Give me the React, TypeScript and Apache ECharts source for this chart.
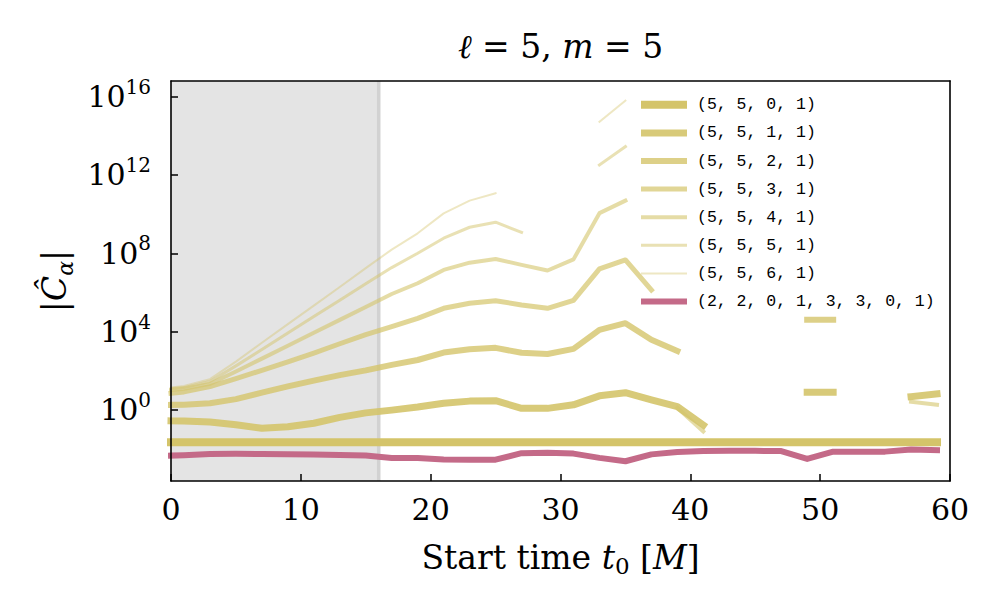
import React, { useEffect, useRef } from "react";
import * as echarts from "echarts";

// Start times t0 [M]
const startTimes = [0, 1, 3, 5, 7, 9, 11, 13, 15, 17, 19, 21, 23, 25, 27, 29, 31, 33, 35, 37, 39, 41, 43, 45, 47, 49, 51, 53, 55, 57, 59];

// log10 |C_alpha| (null = gap)
const logC_5501 = [-1.65, -1.65, -1.65, -1.65, -1.65, -1.65, -1.65, -1.65, -1.65, -1.65, -1.65, -1.65, -1.65, -1.65, -1.65, -1.65, -1.65, -1.65, -1.65, -1.65, -1.65, -1.65, -1.65, -1.65, -1.65, -1.65, -1.65, -1.65, -1.65, -1.65, -1.65];
const logC_5511 = [-0.56, -0.57, -0.62, -0.76, -0.94, -0.86, -0.68, -0.38, -0.15, -0.01, 0.15, 0.34, 0.45, 0.47, 0.08, 0.08, 0.26, 0.72, 0.88, 0.51, 0.17, -0.77, null, null, null, 0.9, 0.9, null, null, 0.68, 0.82];
const logC_5521 = [0.26, 0.27, 0.34, 0.55, 0.88, 1.2, 1.5, 1.78, 2.02, 2.3, 2.55, 2.93, 3.1, 3.17, 2.92, 2.86, 3.12, 4.09, 4.43, 3.58, 3.01, null, null, null, null, 4.6, 4.6, null, null, null, null];
const logC_5531 = [0.85, 0.92, 1.19, 1.6, 2.02, 2.45, 2.9, 3.38, 3.85, 4.25, 4.68, 5.19, 5.45, 5.58, 5.36, 5.19, 5.6, 7.2, 7.66, 6.13, null, null, null, null, null, null, null, null, null, null, null];
const logC_5541 = [1.02, 1.08, 1.33, 1.96, 2.62, 3.28, 3.94, 4.6, 5.26, 5.92, 6.47, 7.15, 7.52, 7.71, 7.41, 7.12, 7.69, 10.05, 10.69, null, 0.1, -1.1, null, null, null, null, null, null, null, 0.42, 0.26];
const logC_5551 = [1.08, 1.14, 1.45, 2.25, 3.09, 3.93, 4.77, 5.6, 6.44, 7.27, 8.0, 8.77, 9.33, 9.59, 9.07, null, null, 12.51, 13.45, null, null, null, null, null, null, null, null, null, null, null, null];
const logC_5561 = [1.15, 1.22, 1.57, 2.47, 3.43, 4.38, 5.33, 6.28, 7.24, 8.19, 9.02, 10.04, 10.69, 11.07, null, null, null, 14.72, 15.8, null, null, null, null, null, null, null, null, null, null, null, null];
const logC_22013301 = [-2.33, -2.31, -2.25, -2.24, -2.25, -2.27, -2.28, -2.3, -2.33, -2.45, -2.46, -2.53, -2.55, -2.54, -2.21, -2.19, -2.23, -2.45, -2.62, -2.27, -2.15, -2.1, -2.09, -2.09, -2.1, -2.5, -2.13, -2.13, -2.13, -2.02, -2.05];

const seriesNames = ["(5, 5, 0, 1)", "(5, 5, 1, 1)", "(5, 5, 2, 1)", "(5, 5, 3, 1)", "(5, 5, 4, 1)", "(5, 5, 5, 1)", "(5, 5, 6, 1)", "(2, 2, 0, 1, 3, 3, 0, 1)"];
const seriesValues = [logC_5501, logC_5511, logC_5521, logC_5531, logC_5541, logC_5551, logC_5561, logC_22013301];

// y-axis: log10 exponents
const yTickExponents = [0, 4, 8, 12, 16];
const yMin = -3.63;
const yMax = 16.8;
const xTicks = [0, 10, 20, 30, 40, 50, 60];
const cutoffTime = 16;

const SERIF = "'DejaVu Serif', 'Liberation Serif', serif";
const MONO = "'Liberation Mono', 'DejaVu Sans Mono', monospace";

const sand = (a: number) => `rgba(212,196,106,${a})`;
const styles = [
  { color: sand(1), width: 8 },
  { color: sand(0.9), width: 7 },
  { color: sand(0.8), width: 6 },
  { color: sand(0.7), width: 5 },
  { color: sand(0.6), width: 4 },
  { color: sand(0.5), width: 3 },
  { color: sand(0.4), width: 2 },
  { color: "rgb(196,106,136)", width: 6 },
];

export default function App() {
  const ref = useRef<HTMLDivElement>(null);
  useEffect(() => {
    if (!ref.current) return;
    const chart = echarts.init(ref.current, null, { renderer: "svg" });

    const lineSeries = seriesNames.map((name, i) => ({
      type: "line",
      name,
      data: startTimes.map((t, k) => [t, seriesValues[i][k] === null ? "-" : seriesValues[i][k]]),
      showSymbol: false,
      symbol: "none",
      silent: true,
      z: 2,
      connectNulls: false,
      emphasis: { disabled: true },
      lineStyle: { color: styles[i].color, width: styles[i].width, cap: "square", join: "round" },
      itemStyle: { color: styles[i].color, borderWidth: 0 },
    }));

    const option: any = {
      animation: false,
      backgroundColor: "#ffffff",
      title: {
        text: "{i|ℓ} = 5, {i|m} = 5",
        left: 560.5,
        top: 26,
        textAlign: "center",
        padding: 0,
        textStyle: {
          fontFamily: SERIF,
          fontSize: 33,
          fontWeight: "normal",
          color: "#000",
          lineHeight: 40,
          rich: { i: { fontFamily: SERIF, fontStyle: "italic", fontSize: 33, lineHeight: 40, color: "#000" } },
        },
      },
      legend: {
        orient: "vertical",
        left: 641,
        top: 94.8,
        padding: 0,
        itemWidth: 46,
        itemHeight: 8,
        itemGap: 8.1,
        selectedMode: false,
        symbolKeepAspect: true,
        itemStyle: { borderWidth: 0 },
        textStyle: { fontFamily: MONO, fontSize: 16.5, lineHeight: 20, color: "#000", padding: [0, 0, 0, 5] },
        data: seriesNames.map((name, i) => ({
          name,
          icon: `path://M0 0H46V${styles[i].width}H0Z`,
          itemStyle: { color: styles[i].color, borderWidth: 0 },
        })),
      },
      grid: { left: 171, right: 50, top: 81, bottom: 129, show: false },
      xAxis: [
        {
          type: "value",
          min: xTicks[0],
          max: xTicks[xTicks.length - 1],
          interval: 10,
          position: "bottom",
          z: 10,
          axisLine: { show: true, onZero: false, lineStyle: { color: "#000", width: 1.6 } },
          axisTick: { show: true, inside: true, length: 7, lineStyle: { color: "#000", width: 1.5 } },
          axisLabel: { fontFamily: SERIF, fontSize: 30, color: "#000", margin: 13, showMinLabel: true, showMaxLabel: true },
          splitLine: { show: false },
          name: "Start time {i|t}{sub|0} [{i|M}]",
          nameLocation: "middle",
          nameGap: 56,
          nameTextStyle: {
            fontFamily: SERIF,
            fontSize: 33,
            lineHeight: 40,
            color: "#000",
            rich: {
              i: { fontFamily: SERIF, fontStyle: "italic", fontSize: 33, color: "#000" },
              sub: { fontFamily: SERIF, fontSize: 23, verticalAlign: "bottom", lineHeight: 24, color: "#000" },
            },
          },
        },
        {
          type: "value",
          min: xTicks[0],
          max: xTicks[xTicks.length - 1],
          position: "top",
          z: 10,
          axisLine: { show: true, onZero: false, lineStyle: { color: "#000", width: 1.6 } },
          axisTick: { show: false },
          axisLabel: { show: false },
          splitLine: { show: false },
        },
      ],
      yAxis: [
        {
          type: "value",
          min: yMin,
          max: yMax,
          position: "left",
          z: 10,
          axisLine: { show: true, onZero: false, lineStyle: { color: "#000", width: 1.6 } },
          axisTick: { show: true, inside: true, length: 7, customValues: yTickExponents, lineStyle: { color: "#000", width: 1.5 } },
          axisLabel: {
            customValues: yTickExponents,
            margin: 20,
            formatter: (v: number) => `{b|10}{s|${Math.round(v)}}`,
            rich: {
              b: { fontFamily: SERIF, fontSize: 30, lineHeight: 40, color: "#000" },
              s: { fontFamily: SERIF, fontSize: 20, lineHeight: 20, verticalAlign: "top", color: "#000" },
            },
          },
          splitLine: { show: false },
          name: "{a||}{c|Ĉ}{s|α}{a||}",
          nameLocation: "middle",
          nameRotate: 90,
          nameGap: 92,
          nameTextStyle: {
            fontFamily: SERIF,
            fontSize: 33,
            lineHeight: 44,
            color: "#000",
            rich: {
              a: { fontFamily: SERIF, fontSize: 33, color: "#000" },
              c: { fontFamily: SERIF, fontStyle: "italic", fontSize: 33, color: "#000" },
              s: { fontFamily: SERIF, fontStyle: "italic", fontSize: 22, lineHeight: 22, verticalAlign: "bottom", color: "#000" },
            },
          },
        },
        {
          type: "value",
          min: yMin,
          max: yMax,
          position: "right",
          z: 10,
          axisLine: { show: true, onZero: false, lineStyle: { color: "#000", width: 1.6 } },
          axisTick: { show: false },
          axisLabel: { show: false },
          splitLine: { show: false },
        },
      ],
      series: [
        {
          type: "line",
          name: "cutoff",
          data: [[cutoffTime, yMin], [cutoffTime, yMax]],
          showSymbol: false,
          symbol: "none",
          silent: true,
          z: 1.5,
          emphasis: { disabled: true },
          lineStyle: { color: "#d2d2d2", width: 3.5, cap: "butt" },
          markArea: {
            silent: true,
            itemStyle: { color: "#e4e4e4" },
            label: { show: false },
            data: [[{ xAxis: 0 }, { xAxis: cutoffTime }]],
          },
        },
        ...lineSeries,
      ],
    };

    chart.setOption(option);
    return () => chart.dispose();
  }, []);

  return (
    <div
      ref={ref}
      style={{ position: "fixed", left: 0, top: 0, width: 1000, height: 610, background: "#fff" }}
    />
  );
}
